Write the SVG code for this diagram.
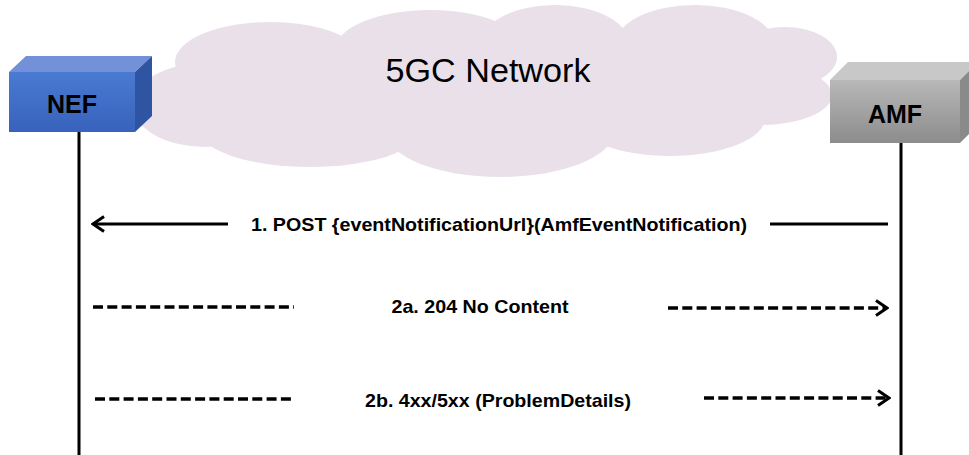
<svg xmlns="http://www.w3.org/2000/svg" width="969" height="455" viewBox="0 0 969 455">
<defs>
<linearGradient id="nefFront" x1="0" y1="0" x2="0" y2="1"><stop offset="0" stop-color="#4a7ad2"/><stop offset="1" stop-color="#3862bc"/></linearGradient>
<linearGradient id="amfFront" x1="0" y1="0" x2="0" y2="1"><stop offset="0" stop-color="#b8b8b8"/><stop offset="1" stop-color="#8c8c8c"/></linearGradient>
<marker id="open" viewBox="0 0 14 18" refX="12" refY="9" markerWidth="14" markerHeight="18" markerUnits="userSpaceOnUse" orient="auto">
<polyline points="1,1.5 12,9 1,16.5" fill="none" stroke="#000" stroke-width="3"/>
</marker>
</defs>
<style>
.life{stroke:#000;stroke-width:3;fill:none}
.msg{stroke:#000;stroke-width:3;fill:none}
.dash{stroke-dasharray:10 4.3;stroke-width:3.5}
.lbl{font-family:"Liberation Sans",Arial,sans-serif;font-weight:bold;font-size:19px;fill:#000;text-anchor:middle}
.node{font-family:"Liberation Sans",Arial,sans-serif;font-weight:bold;font-size:25px;fill:#000;text-anchor:middle}
.cloud{fill:#e9e0ea}
</style>
<rect width="969" height="455" fill="#fff"/>
<g id="cloud">
<g class="cloud">
<ellipse cx="205" cy="105" rx="72" ry="42"/>
<ellipse cx="270" cy="62" rx="95" ry="40"/>
<ellipse cx="430" cy="50" rx="95" ry="40"/>
<ellipse cx="555" cy="45" rx="75" ry="40"/>
<ellipse cx="695" cy="45" rx="80" ry="40"/>
<ellipse cx="785" cy="57" rx="52" ry="30"/>
<ellipse cx="760" cy="95" rx="72" ry="30"/>
<ellipse cx="310" cy="130" rx="110" ry="37"/>
<ellipse cx="500" cy="130" rx="115" ry="47"/>
<ellipse cx="670" cy="118" rx="95" ry="38"/>
<ellipse cx="480" cy="95" rx="280" ry="55"/>
</g>
<text x="488" y="82" font-family="'Liberation Sans',Arial,sans-serif" font-size="33" fill="#000" text-anchor="middle" textLength="205" lengthAdjust="spacingAndGlyphs">5GC Network</text>
</g>
<g id="lifelines">
<line class="life" x1="79" y1="132" x2="79" y2="455"/>
<line class="life" x1="901" y1="143" x2="901" y2="455"/>
</g>
<g id="NEF">
<polygon points="9,72 26,56 152,56 135,72" fill="#7291d8"/>
<polygon points="135,72 152,56 152,116 135,132" fill="#2f55a2"/>
<rect x="9" y="72" width="126" height="60" fill="url(#nefFront)"/>
<text class="node" x="72" y="113">NEF</text>
</g>
<g id="AMF">
<polygon points="830,80 848,62 978,62 960,80" fill="#c8c8c8"/>
<polygon points="960,80 978,62 978,125 960,143" fill="#8a8a8a"/>
<rect x="830" y="80" width="130" height="63" fill="url(#amfFront)"/>
<text class="node" x="895" y="123">AMF</text>
</g>
<g id="connectors">
<line class="msg" x1="228" y1="224" x2="93" y2="224" marker-end="url(#open)"/>
<line class="msg" x1="770" y1="224" x2="888" y2="224"/>
<line class="msg dash" x1="93" y1="307" x2="294" y2="307"/>
<line class="msg dash" x1="668" y1="308" x2="887" y2="308" marker-end="url(#open)"/>
<line class="msg dash" x1="95" y1="399" x2="292" y2="399"/>
<line class="msg dash" x1="704" y1="398" x2="889" y2="398" marker-end="url(#open)"/>
</g>
<g id="labels">
<text class="lbl" x="499" y="231" textLength="496" lengthAdjust="spacingAndGlyphs">1. POST {eventNotificationUrl}(AmfEventNotification)</text>
<text class="lbl" x="480" y="313" textLength="177" lengthAdjust="spacingAndGlyphs">2a. 204 No Content</text>
<text class="lbl" x="498" y="407" textLength="266" lengthAdjust="spacingAndGlyphs">2b. 4xx/5xx (ProblemDetails)</text>
</g>
</svg>
